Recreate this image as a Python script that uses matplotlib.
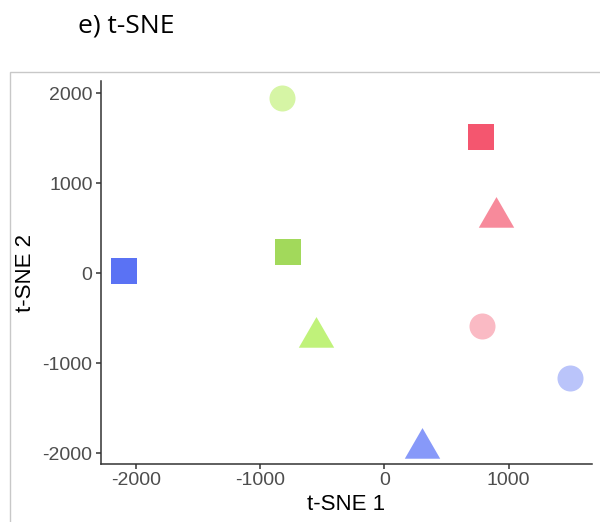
import matplotlib
matplotlib.use("Agg")
import matplotlib.pyplot as plt
from matplotlib.patches import Rectangle

# ---- data ----
tsne1 = [-2094, -821, -772, -549, 305, 778, 900, 784, 1496]
tsne2 = [33, 1952, 239, -707, -1938, 1517, 631, -589, -1164]
group = ["blue", "green", "green", "green", "blue", "red", "red", "red", "blue"]
kind = ["square", "circle", "square", "triangle", "triangle", "square", "triangle", "circle", "circle"]
x_ticks = [-2000, -1000, 0, 1000]
y_ticks = [-2000, -1000, 0, 1000, 2000]

# ---- styles ----
palette = {
    ("blue", "square"): "#5A72F4", ("blue", "triangle"): "#8799F9", ("blue", "circle"): "#BAC4FA",
    ("red", "square"): "#F4566F", ("red", "triangle"): "#F78A9B", ("red", "circle"): "#FABAC4",
    ("green", "square"): "#A2D95B", ("green", "triangle"): "#C0F27A", ("green", "circle"): "#D6F5A5",
}
tri = [(0, 1), (-0.866, -0.5), (0.866, -0.5), (0, 1)]
markers = {"square": ("s", 351), "circle": ("o", 351), "triangle": (tri, 866)}

fig = plt.figure(figsize=(6.0, 5.22), dpi=100)
ax = fig.add_axes([101/600, 1-464/522, (592-101)/600, (464-80.7)/522])

for xv, yv, g, k in zip(tsne1, tsne2, group, kind):
    m, s = markers[k]
    ax.scatter([xv], [yv], marker=m, s=s, color=palette[(g, k)], linewidths=0, zorder=3)

ax.set_xlim(-2279, 1671)
ax.set_ylim(-2117, 2142)
ax.set_xticks(x_ticks)
ax.set_yticks(y_ticks)
ax.set_xticklabels([str(v) for v in x_ticks])
ax.set_yticklabels([str(v) for v in y_ticks])

for side in ("top", "right"):
    ax.spines[side].set_visible(False)
for side in ("left", "bottom"):
    ax.spines[side].set_color("#333333")
    ax.spines[side].set_linewidth(1.1)
ax.tick_params(axis="both", colors="#333333", length=3.6, width=1.1, pad=2.5,
               labelsize=14, labelcolor="#4D4D4D")
for lab in ax.get_xticklabels() + ax.get_yticklabels():
    lab.set_fontfamily("Liberation Sans")

fig.text(346.5/600, 1-505/522, "t-SNE 1", ha="center", va="center",
         fontsize=16, family="Liberation Sans", color="black")
fig.text(25.5/600, 1-273/522, "t-SNE 2", ha="center", va="center", rotation=90,
         fontsize=16, family="Liberation Sans", color="black")
fig.text(78/600, 1-26/522, "e) t-SNE", ha="left", va="center",
         fontsize=19, family="Open Sans", color="black")

fig.patches.append(Rectangle((10/600, -0.05), 1.0, 1-72/522+0.05, transform=fig.transFigure,
                             fill=False, edgecolor="#C8C8C8", linewidth=1.0))

fig.savefig("out.png", dpi=100)
